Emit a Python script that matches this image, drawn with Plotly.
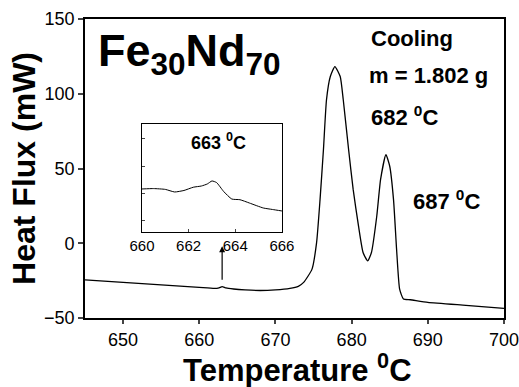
import plotly.graph_objects as go

# Main DSC curve (cooling), Temperature (°C) vs Heat Flux (mW)
temp_main = [645, 648, 651, 654, 657, 660, 662, 662.6, 663, 663.5, 664.5, 666, 668, 670, 671.9,
             673, 673.7, 674.8, 675.4, 675.85, 676.3, 676.7, 677.2, 677.8, 678.5, 678.9, 679.6,
             680.2, 680.9, 681.5, 682.1, 682.6, 683.3, 683.8, 684.5, 685.0,
             685.5, 685.9, 686.3, 686.8, 687.7, 690, 695, 700]
flux_main = [-24.5, -25.5, -26.5, -27.5, -28.5, -29.5, -30.2, -29.8, -29.0, -29.9, -30.6, -31.2,
             -31.6, -31.2, -30.2, -28.8, -26.2, -17.3, 0.4, 29, 62.7, 96, 111.5, 118.2, 111.5, 96,
             62.7, 36, 11.6, -6.2, -11.8, -6.2, 18.2, 42.7, 59.3, 51.5,
             29, -4, -30.7, -37.3, -37.8, -39.5, -41.5, -43.5]

# Inset: zoom around 663 °C
temp_inset = [660, 660.5, 661, 661.4, 661.8, 662.2, 662.55, 662.8, 663.0, 663.2, 663.5, 663.85,
              664.2, 664.6, 665.2, 665.6, 666]
flux_inset = [-29.69, -29.66, -29.72, -29.91, -29.80, -29.56, -29.47, -29.32, -29.10, -29.22,
              -29.87, -30.43, -30.48, -30.72, -31.09, -31.20, -31.31]

x_ticks = [650, 660, 670, 680, 690, 700]
y_ticks = [-50, 0, 50, 100, 150]
inset_ticks = [660, 662, 664, 666]

FONT = "Liberation Sans, Arial, sans-serif"

fig = go.Figure()
fig.add_trace(go.Scatter(x=temp_main, y=flux_main, mode="lines",
                         line=dict(color="black", width=1.3, shape="spline", smoothing=0.5),
                         showlegend=False))
fig.add_trace(go.Scatter(x=temp_inset, y=flux_inset, mode="lines", xaxis="x2", yaxis="y2",
                         line=dict(color="black", width=1, shape="spline", smoothing=0.5),
                         showlegend=False))

fig.update_layout(
    width=519, height=387,
    margin=dict(l=85, r=15, t=19, b=69, autoexpand=False),
    paper_bgcolor="white", plot_bgcolor="white",
    font=dict(family=FONT, color="black"),
    xaxis=dict(range=[645, 700], tickvals=x_ticks, ticks="outside", ticklen=4, tickwidth=1.5,
               showline=True, linecolor="black", linewidth=1.8, mirror=True, showgrid=False,
               zeroline=False, tickfont=dict(size=18, family=FONT), automargin=False,
               ticklabeloverflow="allow"),
    yaxis=dict(range=[-50, 150], tickvals=y_ticks, ticks="outside", ticklen=5, tickwidth=1.5,
               showline=True, linecolor="black", linewidth=1.8, mirror=True, showgrid=False,
               zeroline=False, tickfont=dict(size=18, family=FONT), automargin=False,
               ticklabeloverflow="allow"),
    xaxis2=dict(domain=[0.136, 0.470], anchor="y2", range=[660, 666], tickvals=inset_ticks,
                ticks="inside", ticklen=3, showline=True, linecolor="black", linewidth=1,
                mirror=True, showgrid=False, zeroline=False, automargin=False,
                tickfont=dict(size=15, family=FONT)),
    yaxis2=dict(domain=[0.288, 0.649], anchor="x2", range=[-32.85, -24.9], showticklabels=False,
                ticks="inside", ticklen=3, showline=True, linecolor="black", linewidth=1,
                mirror=True, showgrid=False, zeroline=False, automargin=False),
)

ann = [
    dict(x=646.6, y=127, text="<b>Fe<sub>30</sub>Nd<sub>70</sub></b>", font=dict(size=45),
         xanchor="left", yanchor="middle"),
    dict(x=682.4, y=137, text="<b>Cooling</b>", font=dict(size=22), xanchor="left", yanchor="middle"),
    dict(x=682.2, y=112, text="<b>m = 1.802 g</b>", font=dict(size=22), xanchor="left", yanchor="middle"),
    dict(x=682.4, y=85, text="<b>682 <sup>0</sup>C</b>", font=dict(size=22), xanchor="left", yanchor="middle"),
    dict(x=687.9, y=29, text="<b>687 <sup>0</sup>C</b>", font=dict(size=22), xanchor="left", yanchor="middle"),
    dict(x=658.8, y=68, text="<b>663 <sup>0</sup>C</b>", font=dict(size=18), xanchor="left", yanchor="middle"),
]
for a in ann:
    a.update(xref="x", yref="y", showarrow=False)
    a["font"]["family"] = FONT
    a["font"]["color"] = "black"
    a["borderpad"] = 0
# axis titles
ann.append(dict(x=0.508, y=-0.167, xref="paper", yref="paper", showarrow=False,
                text="<b>Temperature <sup>0</sup>C</b>", xanchor="center", yanchor="middle",
                font=dict(size=31, family=FONT, color="black"), borderpad=0))
ann.append(dict(x=-0.1456, y=0.502, xref="paper", yref="paper", showarrow=False, textangle=-90,
                text="<b>Heat Flux (mW)</b>", xanchor="center", yanchor="middle",
                font=dict(size=32, family=FONT, color="black"), borderpad=0))
fig.update_layout(annotations=ann)
fig.add_annotation(x=663, y=-2, ax=663, ay=-25.5, xref="x", yref="y", axref="x", ayref="y",
                   showarrow=True, arrowhead=2, arrowsize=1, arrowwidth=1.2, arrowcolor="black",
                   text="")

fig.write_html("out.html", config={"displayModeBar": False},
               post_script="document.body.style.margin='0';")
